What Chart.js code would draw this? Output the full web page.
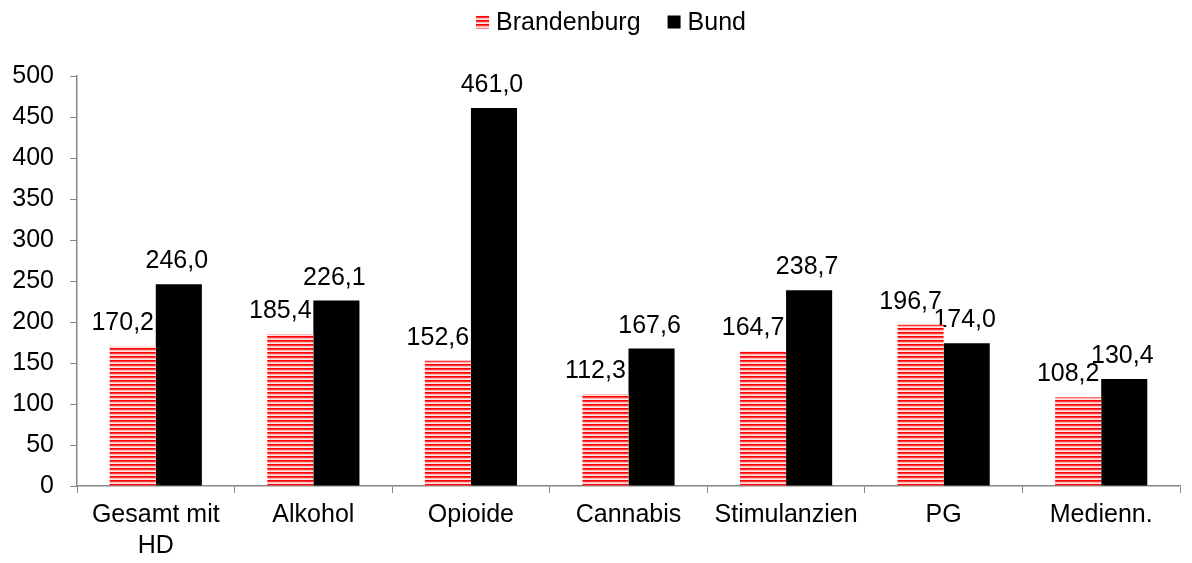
<!DOCTYPE html>
<html>
<head>
<meta charset="utf-8">
<script src="https://cdn.jsdelivr.net/npm/chart.js@4"></script>
<style>
  body { margin: 0; background: #fff; }
  canvas { display: block; }
</style>
</head>
<body>
<canvas id="myChart" width="1192" height="563"></canvas>
<script>
var categories = [['Gesamt mit', 'HD'], 'Alkohol', 'Opioide', 'Cannabis', 'Stimulanzien', 'PG', 'Medienn.'];
var brandenburg = [170.2, 185.4, 152.6, 112.3, 164.7, 196.7, 108.2];
var bund = [246.0, 226.1, 461.0, 167.6, 238.7, 174.0, 130.4];
var yTicks = [0, 50, 100, 150, 200, 250, 300, 350, 400, 450, 500];

// horizontal red stripes for Brandenburg
function stripes() {
    var c = document.createElement('canvas');
    c.width = 4; c.height = 4;
    var g = c.getContext('2d');
    var rows = ['#ff0000', '#ff3a3a', '#ffb8b8', '#ffe4e4'];
    for (var i = 0; i < 4; i++) {
        g.fillStyle = rows[i];
        g.fillRect(0, i, 4, 1);
    }
    return g.createPattern(c, 'repeat');
}

var font = 'Liberation Sans, Arial, sans-serif';

// labels drawn under the bars, like the original (black bar covers red label)
var valueLabels = {
    id: 'valueLabels',
    beforeDatasetsDraw: function(chart) {
        var ctx = chart.ctx;
        ctx.save();
        ctx.font = '25px ' + font;
        ctx.fillStyle = '#000';
        ctx.textAlign = 'center';
        ctx.textBaseline = 'alphabetic';
        chart.data.datasets.forEach(function(ds, i) {
            var dx = i === 0 ? -10 : -2;
            chart.getDatasetMeta(i).data.forEach(function(bar, j) {
                ctx.fillText(ds.data[j].toFixed(1).replace('.', ','), bar.x + dx, bar.y - 16);
            });
        });
        ctx.restore();
    }
};

// legend drawn by hand so spacing matches the original
var topLegend = {
    id: 'topLegend',
    afterDraw: function(chart) {
        var ctx = chart.ctx;
        ctx.save();
        ctx.font = '25px ' + font;
        ctx.textBaseline = 'middle';
        ctx.textAlign = 'left';
        var ds = chart.data.datasets;
        var box = 13, gapText = 7, gapItem = 27;
        var widths = ds.map(function(d) { return box + gapText + ctx.measureText(d.label).width; });
        var total = widths[0] + gapItem + widths[1];
        var x = 611 - total / 2, y = 22;
        ds.forEach(function(d, i) {
            ctx.fillStyle = d.backgroundColor;
            ctx.fillRect(x, y - box / 2, box, box);
            ctx.fillStyle = '#000';
            ctx.fillText(d.label, x + box + gapText, y + 1);
            x += widths[i] + gapItem;
        });
        ctx.restore();
    }
};

var ctx = document.getElementById('myChart').getContext('2d');
var myChart = new Chart(ctx, {
    type: 'bar',
    data: {
        labels: categories,
        datasets: [{
            label: 'Brandenburg',
            data: brandenburg,
            backgroundColor: stripes(),
            borderWidth: 0
        }, {
            label: 'Bund',
            data: bund,
            backgroundColor: '#000',
            borderWidth: 0
        }]
    },
    options: {
        responsive: false,
        animation: false,
        layout: { padding: { top: 76, right: 12, left: 0, bottom: 0 } },
        datasets: { bar: { categoryPercentage: 0.585, barPercentage: 1 } },
        plugins: {
            legend: { display: false },
            tooltip: { enabled: false }
        },
        scales: {
            x: {
                grid: { drawOnChartArea: false, drawTicks: true, tickLength: 7, color: '#888' },
                border: { color: '#888', width: 1.5 },
                ticks: { font: { family: font, size: 25, lineHeight: 1.25 }, color: '#000', padding: 6, maxRotation: 0 },
                afterFit: function(s) { s.height = 77; }
            },
            y: {
                min: 0,
                max: 500,
                afterBuildTicks: function(s) { s.ticks = yTicks.map(function(v) { return { value: v }; }); },
                grid: { drawOnChartArea: false, drawTicks: true, tickLength: 7, color: '#888' },
                border: { color: '#888', width: 1.5 },
                ticks: { font: { family: font, size: 25 }, color: '#000', padding: 16 },
                afterFit: function(s) { s.width = 77; }
            }
        }
    },
    plugins: [valueLabels, topLegend]
});
</script>
</body>
</html>
